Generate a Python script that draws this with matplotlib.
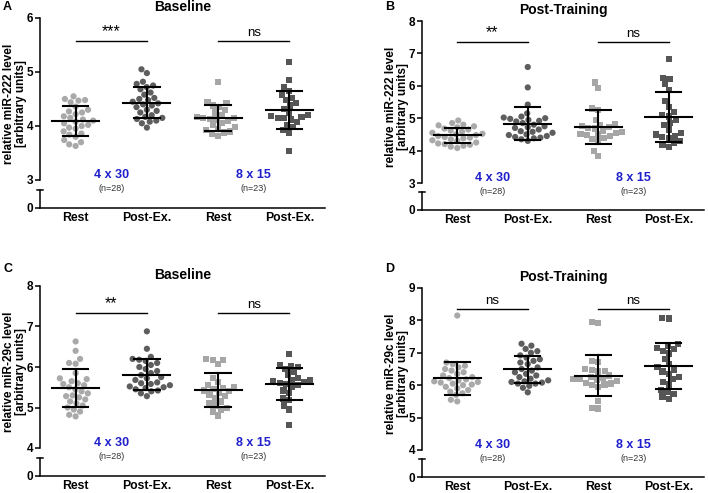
import numpy as np
import matplotlib.pyplot as plt

plt.rcParams['font.family'] = ['Liberation Sans', 'DejaVu Sans']
plt.rcParams['font.weight'] = 'bold'
plt.rcParams['axes.titleweight'] = 'bold'
plt.rcParams['axes.labelweight'] = 'bold'

categories = ['Rest', 'Post-Ex.', 'Rest', 'Post-Ex.']
protocols = ['4 x 30', '8 x 15']
n_labels = ['(n=28)', '(n=23)']

# A - miR-222, baseline
a_rest_430 = [4.55, 4.50, 4.48, 4.47, 4.44, 4.36, 4.30, 4.27, 4.25, 4.22, 4.18, 4.15, 4.12, 4.10,
              4.08, 4.05, 4.02, 4.00, 3.97, 3.95, 3.90, 3.86, 3.84, 3.80, 3.74, 3.70, 3.66, 3.63]
a_post_430 = [5.05, 4.98, 4.82, 4.78, 4.75, 4.72, 4.68, 4.62, 4.58, 4.52, 4.50, 4.48, 4.45, 4.42,
              4.40, 4.38, 4.35, 4.30, 4.28, 4.25, 4.20, 4.17, 4.15, 4.13, 4.10, 4.08, 4.05, 3.97]
a_rest_815 = [4.82, 4.45, 4.42, 4.38, 4.35, 4.30, 4.25, 4.20, 4.17, 4.15, 4.15, 4.13, 4.12, 4.10,
              4.05, 4.02, 3.98, 3.95, 3.92, 3.90, 3.88, 3.85, 3.82]
a_post_815 = [5.19, 4.85, 4.72, 4.65, 4.58, 4.52, 4.48, 4.42, 4.38, 4.32, 4.25, 4.20, 4.18, 4.17,
              4.15, 4.15, 4.12, 4.08, 4.02, 3.98, 3.92, 3.88, 3.54]

# B - miR-222, post-training
b_rest_430 = [4.93, 4.85, 4.80, 4.78, 4.75, 4.72, 4.68, 4.65, 4.62, 4.58, 4.55, 4.52, 4.50, 4.48,
              4.45, 4.42, 4.40, 4.38, 4.35, 4.32, 4.30, 4.25, 4.22, 4.20, 4.18, 4.15, 4.12, 4.08]
b_post_430 = [6.58, 5.95, 5.42, 5.15, 5.05, 5.02, 5.00, 4.98, 4.95, 4.92, 4.90, 4.85, 4.80, 4.75,
              4.72, 4.70, 4.65, 4.60, 4.58, 4.55, 4.50, 4.48, 4.45, 4.42, 4.40, 4.38, 4.35, 4.30]
b_rest_815 = [6.10, 5.93, 5.30, 5.25, 4.95, 4.82, 4.80, 4.75, 4.72, 4.70, 4.68, 4.62, 4.58, 4.55,
              4.52, 4.50, 4.48, 4.45, 4.40, 4.35, 4.28, 3.98, 3.83]
b_post_815 = [6.82, 6.25, 6.20, 6.05, 5.88, 5.52, 5.35, 5.18, 5.10, 5.05, 4.95, 4.85, 4.78, 4.65,
              4.55, 4.50, 4.45, 4.42, 4.38, 4.30, 4.25, 4.18, 4.12]

# C - miR-29c, baseline
c_rest_430 = [6.63, 6.40, 6.20, 6.10, 6.08, 5.85, 5.72, 5.70, 5.65, 5.60, 5.58, 5.55, 5.50, 5.45,
              5.40, 5.35, 5.30, 5.28, 5.25, 5.20, 5.15, 5.10, 5.05, 5.00, 4.95, 4.90, 4.82, 4.78]
c_post_430 = [6.88, 6.45, 6.25, 6.20, 6.18, 6.15, 6.10, 6.05, 6.00, 5.95, 5.90, 5.85, 5.80, 5.75,
              5.72, 5.68, 5.62, 5.60, 5.58, 5.55, 5.52, 5.50, 5.48, 5.45, 5.42, 5.40, 5.35, 5.28]
c_rest_815 = [6.20, 6.18, 6.18, 6.08, 5.72, 5.62, 5.55, 5.50, 5.48, 5.45, 5.42, 5.40, 5.35, 5.32,
              5.28, 5.22, 5.15, 5.10, 5.05, 4.98, 4.95, 4.90, 4.80]
c_post_815 = [6.32, 6.05, 6.03, 6.00, 5.95, 5.88, 5.80, 5.72, 5.68, 5.67, 5.65, 5.62, 5.60, 5.58,
              5.55, 5.50, 5.42, 5.35, 5.22, 5.18, 5.05, 4.95, 4.57]

# D - miR-29c, post-training
d_rest_430 = [8.15, 6.70, 6.65, 6.60, 6.55, 6.50, 6.45, 6.40, 6.35, 6.30, 6.25, 6.22, 6.18, 6.15,
              6.12, 6.10, 6.08, 6.05, 6.02, 6.00, 5.95, 5.90, 5.85, 5.80, 5.75, 5.70, 5.55, 5.50]
d_post_430 = [7.28, 7.22, 7.12, 7.05, 7.00, 6.92, 6.85, 6.80, 6.75, 6.70, 6.65, 6.55, 6.50, 6.45,
              6.40, 6.35, 6.30, 6.25, 6.20, 6.15, 6.12, 6.10, 6.08, 6.05, 6.05, 5.98, 5.92, 5.78]
d_rest_815 = [7.95, 7.92, 6.75, 6.72, 6.50, 6.48, 6.45, 6.42, 6.30, 6.25, 6.22, 6.20, 6.18, 6.15,
              6.12, 6.08, 6.05, 6.02, 6.00, 5.95, 5.52, 5.30, 5.28]
d_post_815 = [8.08, 8.06, 7.28, 7.22, 7.15, 7.12, 7.05, 6.98, 6.82, 6.65, 6.55, 6.48, 6.42, 6.35,
              6.25, 6.18, 6.10, 6.02, 5.85, 5.80, 5.72, 5.65, 5.58]

ylabel_222 = 'relative miR-222 level\n[arbitrary units]'
ylabel_29c = 'relative miR-29c level\n[arbitrary units]'

panels = [
    dict(letter='A', title='Baseline', ylabel=ylabel_222, ylim=(3, 6),
         groups=[a_rest_430, a_post_430, a_rest_815, a_post_815], sig=['***', 'ns'], sig_y=5.57,
         top=[40, 18, 285, 162], low=[40, 190, 285, 18], letter_y=7),
    dict(letter='B', title='Post-Training', ylabel=ylabel_222, ylim=(3, 8),
         groups=[b_rest_430, b_post_430, b_rest_815, b_post_815], sig=['**', 'ns'], sig_y=7.35,
         top=[422, 21, 282, 162], low=[422, 192, 282, 18], letter_y=7),
    dict(letter='C', title='Baseline', ylabel=ylabel_29c, ylim=(4, 8),
         groups=[c_rest_430, c_post_430, c_rest_815, c_post_815], sig=['**', 'ns'], sig_y=7.33,
         top=[40, 286, 285, 162], low=[40, 458, 285, 18], letter_y=269),
    dict(letter='D', title='Post-Training', ylabel=ylabel_29c, ylim=(4, 9),
         groups=[d_rest_430, d_post_430, d_rest_815, d_post_815], sig=['ns', 'ns'], sig_y=8.35,
         top=[422, 288, 282, 162], low=[422, 459, 282, 18], letter_y=269),
]

markers = ['o', 'o', 's', 's']
colors = ['#a9a9a9', '#5e5e5e', '#a6a6a6', '#565656']

W, H = 708, 493
fig = plt.figure(figsize=(W / 100, H / 100), dpi=100)


def rect(px):
    # pixel box (left, top, width, height) -> figure fraction
    l, t, w, h = px
    return [l / W, 1 - (t + h) / H, w / W, h / H]


def swarm(values, d, ypx):
    # simple beeswarm: put each point as close to the centre as it can go
    vals = np.asarray(values) * ypx
    xs = np.zeros(len(vals))
    placed = []
    for i in np.argsort(vals):
        y = vals[i]
        cands = [0.0]
        blocks = []
        for px, py in placed:
            dy = abs(py - y)
            if dy < d:
                w = np.sqrt(d * d - dy * dy)
                blocks.append((px - w, px + w))
                cands += [px - w, px + w]
        ok = [c for c in cands if all(not (lo + 1e-6 < c < hi - 1e-6) for lo, hi in blocks)]
        best = min(ok, key=lambda c: (abs(c), c))
        xs[i] = best
        placed.append((best, y))
    return xs


for p in panels:
    ax = fig.add_axes(rect(p['top']))
    lo = fig.add_axes(rect(p['low']), sharex=ax)
    lo.set_facecolor('none')
    ymin, ymax = p['ylim']
    ax.set_ylim(ymin, ymax)
    ax.set_xlim(0.5, 4.5)
    ypx = p['top'][3] / (ymax - ymin)
    xpx = p['top'][2] / 4.0

    for k, vals in enumerate(p['groups']):
        xpos = k + 1
        offs = swarm(vals, 6.6, ypx) / xpx
        ax.scatter(xpos + offs, vals, s=20, marker=markers[k], color=colors[k],
                   edgecolors='none', zorder=2)
        m = np.mean(vals)
        sd = np.std(vals, ddof=1)
        ax.plot([xpos - 0.33, xpos + 0.33], [m, m], color='black', lw=1.5, zorder=3)
        ax.plot([xpos - 0.18, xpos + 0.18], [m + sd, m + sd], color='black', lw=1.5, zorder=3)
        ax.plot([xpos - 0.18, xpos + 0.18], [m - sd, m - sd], color='black', lw=1.5, zorder=3)
        ax.plot([xpos, xpos], [m - sd, m + sd], color='black', lw=1.5, zorder=3)

    # significance bars
    for j, s in enumerate(p['sig']):
        x0 = 2 * j + 1
        ax.plot([x0, x0 + 1], [p['sig_y'], p['sig_y']], color='black', lw=1.0)
        fs = 11.5 if s.startswith('*') else 9.5
        ax.annotate(s, (x0 + 0.5, p['sig_y']), xytext=(0, 1.5), textcoords='offset points',
                    ha='center', va='bottom', fontsize=fs, fontweight='normal')

    # protocol labels
    for j in range(2):
        ax.text(2 * j + 1.5, 0.03, protocols[j], transform=ax.get_xaxis_transform(),
                ha='center', va='center', color='#1f1fcc', fontsize=9)
        ax.text(2 * j + 1.5, -0.055, n_labels[j], transform=ax.get_xaxis_transform(),
                ha='center', va='center', color='#333333', fontsize=6.5,
                fontweight='normal', clip_on=False, zorder=5)

    for sp in ['top', 'right', 'bottom']:
        ax.spines[sp].set_visible(False)
    ax.spines['left'].set_linewidth(1.1)
    ax.set_yticks(np.arange(ymin, ymax + 1))
    ax.tick_params(axis='y', length=3.5, width=1.1, labelsize=8.5, pad=1.5)
    ax.tick_params(axis='x', bottom=False, labelbottom=False)
    ax.set_ylabel(p['ylabel'], fontsize=8.5, linespacing=1.0)
    ax.yaxis.label.set_va('center')
    ax.yaxis.set_label_coords(-0.088, 0.47)
    ax.set_title(p['title'], fontsize=10, pad=5)

    # lower part of the broken axis
    lo.set_ylim(0, 1)
    lo.set_yticks([0])
    for sp in ['top', 'right']:
        lo.spines[sp].set_visible(False)
    lo.spines['left'].set_linewidth(1.1)
    lo.spines['bottom'].set_linewidth(1.1)
    lo.plot([-0.012, 0.012], [1, 1], transform=lo.transAxes, color='black', lw=1.1, clip_on=False)
    lo.tick_params(axis='y', length=3.5, width=1.1, labelsize=8.5, pad=1.5)
    lo.set_xticks([1, 2, 3, 4])
    lo.set_xticklabels(categories)
    lo.tick_params(axis='x', length=0, labelsize=8.8, pad=3)

    fig.text((p['top'][0] - 37) / W, 1 - p['letter_y'] / H,
             p['letter'], fontsize=9, ha='left', va='center')

fig.savefig('out.png', dpi=100)
